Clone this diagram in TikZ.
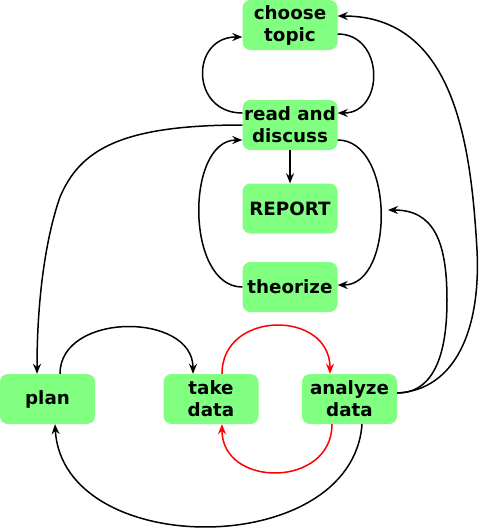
\documentclass[tikz,border=0pt]{standalone}
\usepackage{fontspec}
\setmainfont{DejaVu Sans}
\usetikzlibrary{arrows.meta}

\begin{document}
\begin{tikzpicture}[x=1pt,y=-1pt,
  box/.style={rounded corners=8pt, fill=green!50, minimum width=95pt, minimum height=50pt, inner sep=0pt, align=center, font=\fontsize{18.3}{22}\selectfont\bfseries},
  arr/.style={-{Stealth[length=10pt,width=8pt]}, line width=1.5pt}]
\useasboundingbox (0,0) rectangle (480,528);
\node[box](topic) at (290,25){choose\\topic};
\node[box](read) at (290,125){read and\\discuss};
\node[box](report) at (290,208.5){REPORT};
\node[box](theory) at (290,287){theorize};
\node[box](plan) at (47.5,399){plan};
\node[box](take) at (211,399){take\\data};
\node[box](analyze) at (349.5,399){analyze\\data};
\coordinate(gap) at (388,210);
\draw[arr]([yshift=12pt]read.west) .. controls +(-52,0) and +(-52,0) .. ([yshift=-12pt]topic.west);
\draw[arr]([yshift=-9pt]topic.east) .. controls +(47,0) and +(47,0) .. ([yshift=12pt]read.east);
\draw[arr](read.west) .. controls +(-122,0) and +(20,-47) .. (60,197) .. controls +(-15,43) and +(0,-72) .. ([xshift=-10.5pt]plan.north);
\draw[arr](read.south) -- (report.north);
\draw[arr](theory.west) .. controls +(-57,0) and +(-57,0) .. ([yshift=-15pt]read.west);
\draw[arr]([yshift=-15pt]read.east) .. controls +(57,0) and +(57,0) .. ([yshift=2pt]theory.east);
\draw[arr]([yshift=6pt]analyze.east) .. controls +(43,0) and +(0,40) .. (447,300) .. controls +(0,-60) and +(45,0) .. (gap);
\draw[arr]([yshift=6pt]analyze.east) .. controls +(58,-3) and +(4,80) .. (477,250) .. controls +(-6,-105) and +(117,0) .. ([yshift=9pt]topic.east);
\draw[arr]([xshift=12.5pt]plan.north) .. controls +(0,-62) and +(0,-62) .. ([xshift=-18pt]take.north);
\draw[arr, red]([xshift=11pt]take.north) .. controls +(0,-64) and +(0,-64) .. ([xshift=-19.5pt]analyze.north);
\draw[arr, red]([xshift=-17.5pt]analyze.south) .. controls +(0,64) and +(0,64) .. ([xshift=11pt]take.south);
\draw[arr]([xshift=12.5pt]analyze.south) .. controls +(-10,136) and +(8,136) .. ([xshift=7.5pt]plan.south);
\end{tikzpicture}
\end{document}
